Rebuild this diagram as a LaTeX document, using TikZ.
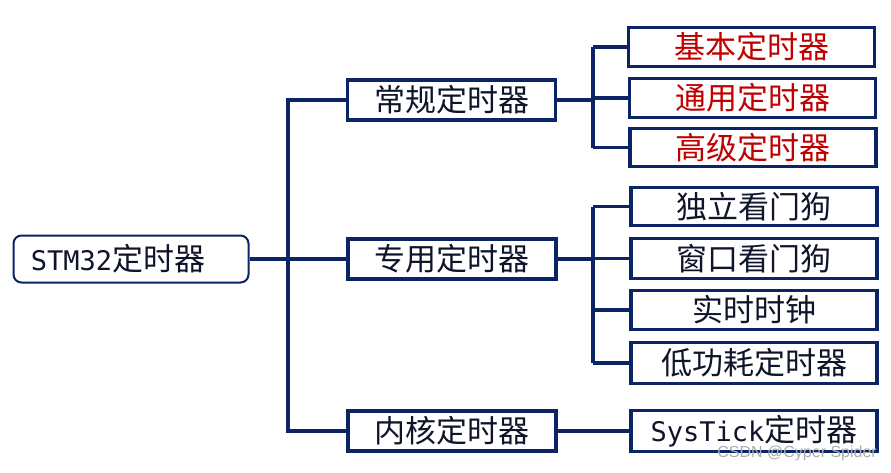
\documentclass[tikz,border=0pt]{standalone}
\usepackage{fontspec}
\setmainfont{Noto Sans CJK SC}
\newfontfamily\latmono{DejaVu Sans Mono}
\newfontfamily\wmfont{Liberation Sans}
\definecolor{navy}{HTML}{0A2466}
\definecolor{txt}{HTML}{10142A}
\definecolor{redtxt}{HTML}{C00000}
\tikzset{
  conn/.style={draw=navy, line width=3.6pt},
  box/.style={draw=navy, line width=3.6pt, fill=white, inner sep=0pt, text=txt,
              font=\fontsize{31}{31}\selectfont},
  midbox/.style={box, minimum width=208pt, minimum height=40pt},
  leafbox/.style={box, minimum width=246pt, minimum height=39pt},
  redleaf/.style={leafbox, text=redtxt},
  rootbox/.style={box, line width=2pt, rounded corners=8pt, minimum width=235pt, minimum height=47pt},
}
\begin{document}
\begin{tikzpicture}[x=1pt,y=-1pt]
\useasboundingbox (0,0) rectangle (891,472);
% nodes
\node[rootbox] (root) at (131,259) {\hspace*{-26pt}{\latmono\fontsize{27}{27}\selectfont STM32}定时器};
\node[midbox] (m1) at (451.5,100) {常规定时器};
\node[midbox] (m2) at (452,259) {专用定时器};
\node[midbox] (m3) at (452,431) {内核定时器};
\node[redleaf] (l1) at (751.5,47) {基本定时器};
\node[redleaf] (l2) at (752.5,98) {通用定时器};
\node[redleaf, minimum height=38pt] (l3) at (753,147.5) {高级定时器};
\node[leafbox, minimum height=38pt] (l4) at (754,206.5) {独立看门狗};
\node[leafbox, minimum height=40pt] (l5) at (754,258.5) {窗口看门狗};
\node[leafbox] (l6) at (754,310) {实时时钟};
\node[leafbox, minimum height=41pt] (l7) at (754,363) {低功耗定时器};
\node[leafbox, minimum height=41pt] (l8) at (754,431) {{\latmono\fontsize{27}{27}\selectfont SysTick}定时器};
% junctions
\coordinate (J1) at (288,259);
\coordinate (J2) at (593,0);
% level 1
\draw[conn] (root.east) -- (J1);
\draw[conn] (m1.west) -- (m1.west -| J1) -- (m3.west -| J1) -- (m3.west);
\draw[conn] (J1) -- (m2.west);
% level 2 - top
\draw[conn] (m1.east) -- (m1.east -| J2);
\draw[conn] (l1.west -| J2) -- (l3.west -| J2);
\draw[conn] (l1.west -| J2) -- (l1.west);
\draw[conn] (l2.west -| J2) -- (l2.west);
\draw[conn] (l3.west -| J2) -- (l3.west);
% level 2 - middle
\draw[conn] (m2.east) -- (m2.east -| J2);
\draw[conn] (l4.west -| J2) -- (l7.west -| J2);
\draw[conn] (l4.west -| J2) -- (l4.west);
\draw[conn] (l5.west -| J2) -- (l5.west);
\draw[conn] (l6.west -| J2) -- (l6.west);
\draw[conn] (l7.west -| J2) -- (l7.west);
% level 2 - bottom
\draw[conn] (m3.east) -- (l8.west);
% watermark
\node[anchor=south east, inner sep=0pt, text=gray!65, font=\wmfont\fontsize{16}{16}\selectfont] (wm) at (877,461) {CSDN @Cyper Spider};
\end{tikzpicture}
\end{document}
